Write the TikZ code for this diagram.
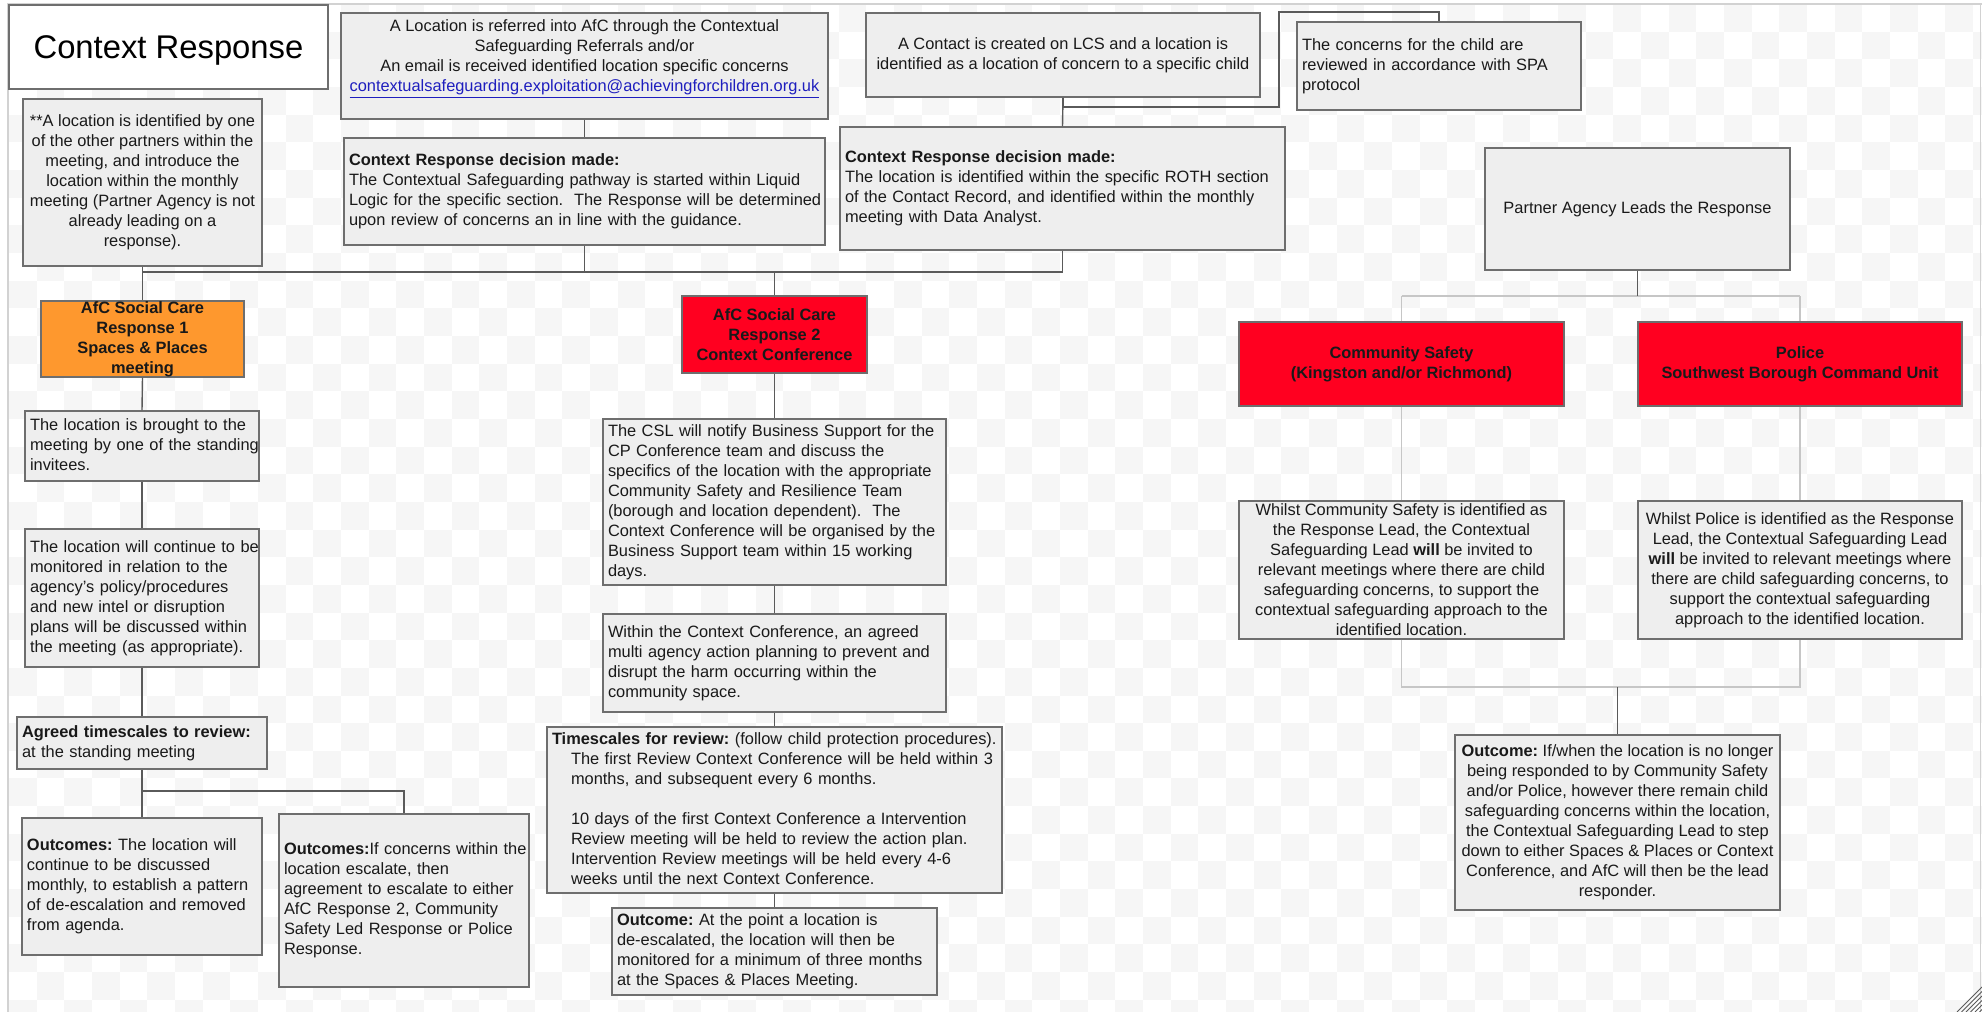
\documentclass[tikz,border=0pt]{standalone}
\usepackage{fontspec}
\setmainfont{Liberation Sans}
\usetikzlibrary{calc}
\frenchspacing
\definecolor{boxfill}{RGB}{238,238,238}
\definecolor{boxline}{RGB}{110,110,110}
\definecolor{connc}{RGB}{90,90,90}
\definecolor{lightc}{RGB}{198,198,198}
\definecolor{txt}{RGB}{25,25,25}
\definecolor{orangefill}{RGB}{254,152,46}
\definecolor{redfill}{RGB}{255,0,32}
\definecolor{linkblue}{RGB}{30,30,190}
\definecolor{checker}{RGB}{246,246,246}
\definecolor{framec}{RGB}{210,210,210}
\newcommand\bodyfont{\fontsize{16.4}{20}\selectfont}
\newcommand\ltxt[1]{\begin{tabular}{@{}l@{}}#1\end{tabular}}
\tikzset{
  box/.style={draw=boxline, line width=1.4pt, fill=boxfill, text=txt, font=\bodyfont, inner xsep=5pt, inner ysep=1pt, align=center},
  lbox/.style={box, align=left},
  orangebox/.style={box, fill=orangefill, font=\bodyfont\bfseries, inner ysep=0pt},
  redbox/.style={box, fill=redfill, font=\bodyfont\bfseries},
  conn/.style={draw=connc, line width=1.4pt},
  lconn/.style={draw=lightc, line width=1.4pt},
}
\begin{document}
\begin{tikzpicture}[x=1pt,y=-1pt]
\useasboundingbox (0,0) rectangle (1982,1012);
\fill[white] (0,0) rectangle (1982,1012);
% checkerboard background
\foreach \j in {0,...,36}{
  \foreach \i in {0,2,...,70}{
    \fill[checker] ({9+(\i+mod(\j,2))*27.66},{4+\j*27.66}) rectangle ++(27.66,27.66);
  }
}
\draw[framec, line width=2pt] (8,1012) -- (8,4) -- (1982,4);
\draw[framec, line width=1pt] (1980.5,4) -- (1980.5,1012);
\foreach \k in {0,...,5}{
  \draw[connc, line width=1pt] ({1957+4.5*\k},1012) -- (1982,{987+4.5*\k});
}

% title
\node[draw=boxline, line width=1.4pt, fill=white, minimum width=319, minimum height=84, text depth=0pt,
      font=\fontsize{32.8}{38}\selectfont, text=black] (title) at (168.5,47) {Context Response};

% top row
\node[box, minimum width=239, minimum height=167] (L0) at (142.5,182.5)
 {**A location is identified by one\\of the other partners within the\\meeting, and introduce the\\location within the monthly\\meeting (Partner Agency is not\\already leading on a\\response).};
\node[box, minimum width=487, minimum height=106] (A) at (584.5,66)
 {A Location is referred into AfC through the Contextual\\Safeguarding Referrals and/or\\An email is received identified location specific concerns\\
  \textcolor{linkblue}{\underline{contextualsafeguarding.exploitation@achievingforchildren.org.uk}}\\ \mbox{}};
\node[lbox, minimum width=481, minimum height=107, text width=471] (D1) at (584.5,191.5)
 {\ltxt{\textbf{Context Response decision made:}\\The Contextual Safeguarding pathway is started within Liquid\\Logic for the specific section.\ \ The Response will be determined\\upon review of concerns an in line with the guidance.}};
\node[box, minimum width=394, minimum height=84] (C) at (1063,55)
 {A Contact is created on LCS and a location is\\identified as a location of concern to a specific child};
\node[lbox, minimum width=284, minimum height=88, text width=274] (SPA) at (1439,66)
 {\ltxt{The concerns for the child are\\reviewed in accordance with SPA\\protocol}};
\node[lbox, minimum width=445, minimum height=123, text width=435] (D2) at (1062.5,188.5)
 {\ltxt{\textbf{Context Response decision made:}\\The location is identified within the specific ROTH section\\of the Contact Record, and identified within the monthly\\meeting with Data Analyst.}};
\node[box, minimum width=305, minimum height=122] (P) at (1637.5,209) {Partner Agency Leads the Response};

% left column
\node[orangebox, minimum width=203, minimum height=76] (O1) at (142.5,339)
 {AfC Social Care\\Response 1\\Spaces \& Places\\meeting};
\node[lbox, minimum width=234, minimum height=70, text width=224] (S1) at (142,446)
 {\ltxt{The location is brought to the\\meeting by one of the standing\\invitees.}};
\node[lbox, minimum width=234, minimum height=138, text width=224] (S2) at (142,598)
 {\ltxt{The location will continue to be\\monitored in relation to the\\agency's policy/procedures\\and new intel or disruption\\plans will be discussed within\\the meeting (as appropriate).}};
\node[lbox, minimum width=250, minimum height=52, text width=240] (AG) at (142,743)
 {\ltxt{\textbf{Agreed timescales to review:}\\at the standing meeting}};
\node[lbox, minimum width=238, minimum height=137, text width=230] (OC1) at (142,886.5)
 {\ltxt{\textbf{Outcomes:} The location will\\continue to be discussed\\monthly, to establish a pattern\\of de-escalation and removed\\from agenda.}};
\node[lbox, minimum width=248, minimum height=173, text width=240] (OC2) at (404,900.5)
 {\ltxt{\textbf{Outcomes:}If concerns within the\\location escalate, then\\agreement to escalate to either\\AfC Response 2, Community\\Safety Led Response or Police\\Response.}};

% middle column
\node[redbox, minimum width=185, minimum height=77] (R2) at (774.5,334.5)
 {AfC Social Care\\Response 2\\Context Conference};
\node[lbox, minimum width=341, minimum height=166, text width=333] (CSL) at (774.5,502)
 {\ltxt{The CSL will notify Business Support for the\\CP Conference team and discuss the\\specifics of the location with the appropriate\\Community Safety and Resilience Team\\(borough and location dependent).\ \ The\\Context Conference will be organised by the\\Business Support team within 15 working\\days.}};
\node[lbox, minimum width=341, minimum height=98, text width=333] (W) at (774.5,663)
 {\ltxt{Within the Context Conference, an agreed\\multi agency action planning to prevent and\\disrupt the harm occurring within the\\community space.}};
\node[lbox, minimum width=455, minimum height=166, text width=445] (TS) at (774.5,810)
 {\ltxt{\textbf{Timescales for review:} (follow child protection procedures).\\
  \hspace*{19pt}The first Review Context Conference will be held within 3\\
  \hspace*{19pt}months, and subsequent every 6 months.\\ \\
  \hspace*{19pt}10 days of the first Context Conference a Intervention\\
  \hspace*{19pt}Review meeting will be held to review the action plan.\\
  \hspace*{19pt}Intervention Review meetings will be held every 4-6\\
  \hspace*{19pt}weeks until the next Context Conference.}};
\node[lbox, minimum width=325, minimum height=87, text width=315] (OC3) at (774.5,951.5)
 {\ltxt{\textbf{Outcome:} At the point a location is\\de-escalated, the location will then be\\monitored for a minimum of three months\\at the Spaces \& Places Meeting.}};

% right side
\node[redbox, minimum width=325, minimum height=84] (CS) at (1401.5,364)
 {Community Safety\\(Kingston and/or Richmond)};
\node[redbox, minimum width=324, minimum height=84] (PO) at (1800,364)
 {Police\\Southwest Borough Command Unit};
\node[box, minimum width=325, minimum height=138] (CSW) at (1401.5,570)
 {Whilst Community Safety is identified as\\the Response Lead, the Contextual\\Safeguarding Lead \textbf{will} be invited to\\relevant meetings where there are child\\safeguarding concerns, to support the\\contextual safeguarding approach to the\\identified location.};
\node[box, minimum width=324, minimum height=138] (POW) at (1800,570)
 {Whilst Police is identified as the Response\\Lead, the Contextual Safeguarding Lead\\\textbf{will} be invited to relevant meetings where\\there are child safeguarding concerns, to\\support the contextual safeguarding\\approach to the identified location.};
\node[box, minimum width=325, minimum height=175] (OC4) at (1617.5,822.5)
 {\textbf{Outcome:} If/when the location is no longer\\being responded to by Community Safety\\and/or Police, however there remain child\\safeguarding concerns within the location,\\the Contextual Safeguarding Lead to step\\down to either Spaces \& Places or Context\\Conference, and AfC will then be the lead\\responder.};

% junction coordinates
\coordinate (jy) at (0,272);
\coordinate (k1) at (1279,107);
\coordinate (k2) at (1279,12);
\coordinate (j2) at (0,791);
\coordinate (jt) at (0,296);
\coordinate (jb) at (0,687);

% connectors
\draw[conn] (L0.south) -- (O1.north);
\draw[conn] (A.south) -- (D1.north);
\draw[conn] (D1.south) -- (D1.south |- jy);
\draw[conn] (L0.south |- jy) -- (D2.south |- jy);
\draw[conn] (D2.south) -- (D2.south |- jy);
\draw[conn] (R2.north |- jy) -- (R2.north);
\draw[conn] (C.south) -- (D2.north);
\draw[conn] (C.south) -- (C.south |- k1) -- (k1) -- (k2) -- (SPA.north |- k2) -- (SPA.north);

\draw[conn] (O1.south) -- (S1.north);
\draw[conn] (S1.south) -- (S2.north);
\draw[conn] (S2.south) -- (AG.north);
\draw[conn] (AG.south) -- (OC1.north);
\draw[conn] (AG.south |- j2) -- (OC2.north |- j2) -- (OC2.north);

\draw[conn] (R2.south) -- (CSL.north);
\draw[conn] (CSL.south) -- (W.north);
\draw[conn] (W.south) -- (TS.north);
\draw[conn] (TS.south) -- (OC3.north);

\draw[lconn] (CS.north |- jt) -- (PO.north |- jt);
\draw[lconn] (CS.north |- jt) -- (CS.north);
\draw[lconn] (PO.north |- jt) -- (PO.north);
\draw[lconn] (CS.south) -- (CSW.north);
\draw[lconn] (PO.south) -- (POW.north);
\draw[lconn] (CSW.south) -- (CSW.south |- jb) -- (POW.south |- jb) -- (POW.south);
\draw[conn] (P.south) -- (P.south |- jt);
\draw[conn] (OC4.north |- jb) -- (OC4.north);
\end{tikzpicture}
\end{document}
